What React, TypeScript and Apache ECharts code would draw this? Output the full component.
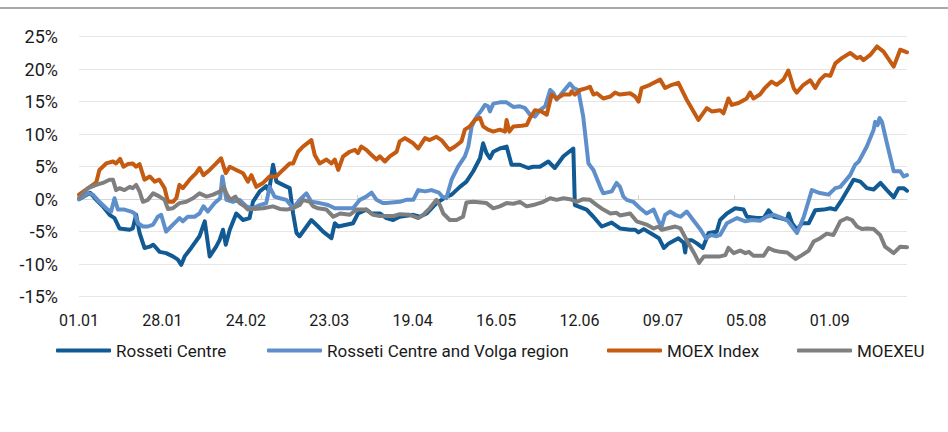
import React, { useEffect, useRef } from "react";
import * as echarts from "echarts";

const seriesNames = ["Rosseti Centre", "Rosseti Centre and Volga region", "MOEX Index", "MOEXEU"];
const seriesColors = ["#115a94", "#5f8fcb", "#c55a11", "#7f7f7f"];

// day index since 01.01 -> value in %
const rossetiCentre: [number, number][] = [
  [0, 0], [3.6, 1.0], [5.6, -0.1], [7.7, -1.1], [9.9, -2.4], [11.5, -2.9], [13.1, -4.5], [16.4, -4.7], [17.4, -4.5],
  [18.5, -2.4], [19.6, -5.2], [21.2, -7.5], [22.9, -7.3], [24, -7.0], [25, -7.5], [26.1, -8.1], [28.2, -8.3],
  [30.4, -8.8], [32, -9.3], [33.1, -10.1], [34.2, -8.8], [36.3, -7.5], [39, -5.7], [40.7, -3.4], [42.3, -8.8],
  [44.4, -7.3], [45.5, -6.3], [46.6, -4.7], [47.5, -7.0], [48.8, -4.7], [50.9, -2.2], [53.1, -3.2], [55.2, -2.9],
  [56.3, -0.4], [58.5, 1.2], [60.6, 2.0], [61.5, 1.2], [62.8, 5.3], [63.9, 2.7], [66, 2.2], [68.2, 1.7],
  [69.3, -2.2], [70.4, -5.2], [71.4, -5.7], [75.2, -3.2], [77.4, -4.2], [79, -5.0], [81.7, -6.0], [82.8, -3.7],
  [83.9, -4.2], [88.7, -3.7], [90.3, -2.2], [93, -1.6], [94.7, -2.2], [97.4, -2.2], [99.5, -2.9], [101.7, -3.2],
  [103.8, -2.7], [108.2, -2.4], [110.3, -2.7], [112.5, -2.2], [115.7, -0.6], [119, 0.4], [120.6, 0.7],
  [123.3, 1.9], [125.4, 2.7], [127.6, 4.3], [129.8, 6.3], [130.8, 8.6], [131.9, 7.1], [133, 6.3], [134.1, 7.3],
  [136.2, 7.8], [138.4, 8.1], [140, 5.3], [142.7, 5.3], [145.4, 4.8], [147, 5.0], [149.2, 5.0], [151.9, 5.8],
  [154, 4.8], [156.8, 6.6], [160, 7.8], [160.5, -0.9], [164.3, -1.6], [166.5, -2.7], [169.2, -4.2],
  [172.4, -3.6], [175.1, -4.5], [178.4, -4.7], [180, -4.7], [181.1, -5.1], [182.8, -4.6], [186, -5.5],
  [187.7, -6.0], [189.3, -7.5], [190.9, -6.8], [194, -6.0], [195.7, -6.7], [196.2, -8.2], [196.7, -6.3],
  [198.3, -6.3], [200, -6.8], [201.9, -7.5], [203.8, -5.2], [206.4, -5.0], [207.5, -3.2], [209.7, -2.2],
  [212.4, -1.4], [215.1, -1.6], [216.2, -2.7], [219.4, -2.9], [221.6, -2.9], [223.2, -1.7], [224.9, -2.7],
  [227, -2.9], [229.2, -3.2], [229.7, -2.2], [230.8, -3.7], [232.4, -4.7], [234, -3.7], [236.2, -3.7],
  [238.3, -1.7], [241, -1.6], [243.2, -1.4], [244.8, -1.6], [246.9, -0.1], [249.1, 1.7], [250.7, 3.0],
  [252.9, 2.7], [255, 1.7], [257.2, 1.5], [259.4, 2.5], [261.5, 1.4], [263.7, 0.3], [265.3, 1.7], [266.9, 1.7],
  [268, 1.3],
];

const rossetiVolga: [number, number][] = [
  [0, 0], [2.9, 0.9], [4.5, 0.7], [6.6, -0.4], [8.8, -1.4], [10.4, -1.9], [11.5, 0.15], [12.6, -1.6], [14.7, -1.6],
  [16.9, -1.9], [18, -2.2], [19.1, -3.7], [20.7, -4.2], [22.3, -4.2], [24, -3.9], [25.5, -2.7], [26.6, -2.4],
  [28.2, -5.0], [29.8, -4.2], [31.5, -3.4], [32.5, -2.9], [33.6, -3.4], [35.2, -2.7], [37.4, -2.7], [39, -2.2],
  [40.3, -1.1], [41.7, -1.9], [43.9, -0.6], [45.7, 0.15], [46.4, 3.5], [47.7, -0.1], [49.8, -0.4], [52, -0.1],
  [54.2, -1.1], [56.3, -1.4], [58.5, -0.9], [60.6, -0.6], [61.7, 1.9], [63.3, 0.4], [65, 0.15], [67.1, -0.1],
  [69.3, -1.4], [71.4, -0.1], [73.6, 0.9], [75.2, -0.4], [77.9, -0.6], [80.6, -0.9], [82.8, -1.4], [85.5, -1.4],
  [88.7, -1.4], [90.9, -0.1], [93, 0.4], [94.7, 1.0], [96.3, -0.1], [98.3, -0.6], [99.5, -0.6], [103.8, -0.4],
  [105.9, -0.1], [108.2, -0.1], [109.8, 1.4], [112, 1.2], [114.1, 1.4], [116.5, 1.0], [117.6, 0.4],
  [118.9, 0.15], [120.6, 3.0], [122.7, 5.0], [124.9, 6.6], [126, 8.1], [127.1, 11.2], [128.7, 12.7],
  [130.3, 13.7], [131.4, 14.5], [132.4, 14.3], [133, 13.5], [134.1, 14.7], [136.2, 14.9], [138.4, 14.9],
  [140.6, 14.2], [142.7, 14.3], [144.4, 14.0], [146, 13.0], [147.6, 12.7], [149.2, 13.7], [150.9, 14.3],
  [152.5, 16.8], [153.6, 16.3], [154.6, 15.3], [156.8, 16.6], [158.9, 17.8], [160.1, 17.1], [161.6, 16.8],
  [163.2, 12.7], [164.9, 5.5], [166.5, 4.5], [168.7, 1.9], [169.7, 0.9], [172.4, 1.2], [174, 2.5], [175.1, 1.9],
  [176.2, 0.4], [177.3, -0.1], [179.4, -0.4], [181.6, -1.4], [183.7, -2.2], [186, -1.6], [187.6, -3.4],
  [188.6, -4.2], [189.7, -2.4], [191.3, -1.9], [193, -2.4], [194.7, -2.7], [196.7, -1.9], [199.1, -3.4],
  [201.2, -4.7], [202.9, -6.0], [204.6, -5.5], [206.4, -5.7], [207.5, -5.5], [209.7, -3.7], [213, -2.9],
  [215.7, -3.4], [217.8, -3.2], [220.4, -3.3], [222.6, -2.7], [224.9, -2.4], [227, -2.8], [229.2, -3.2],
  [230.8, -4.2], [232.4, -5.2], [234.6, -2.7], [237.2, 1.4], [239.4, 1.0], [242.6, 0.7], [244.8, 1.7],
  [246.4, 1.9], [249.6, 3.7], [251.2, 5.3], [252.4, 5.8], [255, 8.1], [257.2, 10.7], [257.7, 11.9],
  [258.5, 11.4], [259.1, 12.5], [259.9, 11.9], [261.5, 8.6], [263.7, 4.3], [265.8, 4.3], [266.9, 3.5],
  [268, 3.7],
];

const moexIndex: [number, number][] = [
  [0, 0.7], [5.6, 2.6], [6.6, 4.5], [8.8, 5.5], [11, 5.8], [12, 5.5], [13.3, 6.2], [14.4, 5.0], [15.8, 5.4],
  [17.4, 5.5], [18.5, 5.0], [19.6, 5.4], [21.2, 3.0], [22.9, 3.5], [24.5, 2.7], [26, 3.0], [27.7, 1.7],
  [28.8, -0.4], [30.4, -0.4], [31.5, 0.15], [32.5, 2.2], [33.6, 1.7], [35.8, 3.0], [37.9, 4.0], [39, 4.8],
  [40.3, 3.7], [42.3, 4.5], [44.4, 5.5], [46, 6.3], [47.5, 4.0], [48.8, 5.0], [50.9, 4.5], [53.1, 4.0],
  [54.7, 2.7], [55.8, 3.7], [57.4, 1.9], [59.6, 2.5], [61.7, 3.5], [63.9, 3.5], [66, 4.5], [68.2, 5.5],
  [69.3, 5.5], [70.9, 7.3], [72.5, 8.1], [75.2, 9.1], [76.3, 6.8], [77.9, 5.5], [80.1, 6.1], [81.7, 5.5],
  [82.8, 6.1], [83.9, 4.5], [85.5, 6.6], [87.6, 7.3], [89.3, 7.6], [90.3, 7.1], [91.4, 8.1], [93, 7.6],
  [94.7, 6.8], [96.3, 6.1], [97.4, 6.6], [99, 5.8], [100.6, 6.6], [102.8, 7.3], [103.8, 8.9], [105.5, 9.4],
  [106.5, 9.1], [108.2, 8.6], [109.8, 7.8], [110.9, 8.6], [112, 9.4], [113.5, 9.1], [115.7, 9.6], [117.3, 9.1],
  [119, 8.1], [120, 7.6], [121.7, 8.1], [123.8, 8.9], [124.9, 10.7], [126.5, 11.2], [128.1, 12.2],
  [129.8, 12.5], [130.8, 11.2], [132.4, 10.7], [134.1, 10.4], [136.2, 10.7], [137.9, 10.4], [138.4, 12.2],
  [139.3, 10.4], [140.6, 11.2], [143.3, 11.3], [144.9, 11.4], [146, 12.5], [147.6, 13.7], [149.7, 13.5],
  [151.4, 13.0], [153, 16.1], [154.6, 15.5], [156.8, 16.1], [158.9, 16.1], [159.5, 16.6], [160.5, 16.1],
  [162.2, 16.8], [164.3, 17.1], [165.4, 17.3], [166.5, 16.1], [167.6, 16.3], [169.7, 15.5], [172, 15.8],
  [173.5, 16.4], [175.1, 16.1], [178.4, 16.3], [180, 15.8], [181.1, 15.0], [182.1, 17.1], [184.8, 17.6],
  [188.1, 18.4], [189.7, 17.1], [191.9, 17.6], [194, 17.9], [196.7, 15.3], [200.5, 12.2], [203.2, 14.0],
  [204.8, 13.5], [207.5, 13.7], [208.6, 13.2], [210.2, 15.5], [211.3, 14.5], [213.5, 14.8], [216.1, 15.5],
  [217.2, 16.4], [218.3, 15.5], [220.4, 16.1], [222, 17.1], [224.2, 18.1], [225.8, 17.6], [228, 18.4],
  [229.6, 19.8], [231.3, 17.1], [232.3, 16.4], [234.5, 17.6], [236.7, 18.3], [238.3, 17.1], [239.9, 18.4],
  [241.5, 19.1], [243.2, 19.0], [244.8, 20.9], [246.9, 21.7], [249.6, 22.5], [251.8, 21.7], [252.9, 21.9],
  [253.9, 21.4], [256.1, 22.2], [258.3, 23.5], [260.4, 22.7], [263.7, 20.4], [265.8, 23.0], [268, 22.6],
];

const moexeu: [number, number][] = [
  [0, 0.2], [2.9, 1.7], [5.6, 2.2], [7.7, 2.5], [9.9, 3.0], [11, 3.0], [12, 1.4], [13.1, 1.7], [14.7, 1.4],
  [16.4, 1.9], [17.4, 1.7], [18.5, 2.2], [19.6, 1.2], [20.7, -0.4], [22.3, -0.1], [24, 0.9], [26.1, 0.4],
  [27.7, -0.1], [28.8, -1.5], [30.4, -1.4], [32.5, -0.6], [34.7, -0.4], [36.9, 0.15], [39, 0.9], [41.3, 0.4],
  [43.4, 0.7], [45.7, 1.2], [46.8, 1.9], [47.9, 0.7], [49, -0.1], [50.6, 0.4], [52, -0.6], [53.6, -1.1],
  [54.7, -1.6], [56.3, -1.5], [59.6, -1.4], [62.8, -1.1], [65, -1.5], [67.1, -1.6], [69.3, -1.4], [71.4, -0.9],
  [72.5, -0.1], [74.7, -0.4], [75.8, -1.1], [77.4, -1.4], [80.1, -1.6], [82.3, -2.7], [84.5, -2.2],
  [87.7, -2.4], [89.8, -1.6], [93, -1.6], [95.2, -2.4], [97.4, -2.6], [101.7, -2.6], [103.8, -2.3],
  [107.1, -2.4], [109.8, -2.9], [111.4, -2.4], [113.5, -1.4], [115.7, -0.1], [116.8, -0.9], [117.9, -2.2],
  [120, -3.2], [122.2, -3.2], [124.3, -2.7], [125.4, -0.5], [127.6, -0.4], [131.9, -0.6], [134.1, -1.4],
  [136.2, -1.1], [138.4, -0.6], [140.6, -0.7], [142.7, -0.4], [144.9, -1.1], [147, -0.9], [150.3, -0.4],
  [152.5, 0.15], [154.6, -0.1], [156.8, 0.15], [158.9, 0], [161.1, -0.4], [163.2, 0], [165.4, -0.1],
  [167.6, -0.9], [169.7, -1.6], [172, -2.2], [174, -2.1], [175.1, -2.5], [178.4, -2.2], [180.5, -3.4],
  [183.7, -3.9], [186, -4.5], [187.6, -4.2], [188.6, -4.7], [190.3, -4.5], [193, -4.2], [194.7, -4.5],
  [196.7, -6.3], [199.1, -8.3], [200.7, -9.8], [202.3, -8.8], [204.5, -8.8], [207.5, -8.8], [209.2, -8.6],
  [210.2, -7.5], [211.9, -8.3], [214, -7.9], [215.7, -8.3], [216.8, -8.1], [218.3, -8.7], [221.6, -8.7],
  [223.2, -7.5], [224.9, -7.9], [227, -8.1], [229.2, -8.2], [230.3, -8.6], [231.9, -9.2], [234, -8.6],
  [236.2, -7.9], [237.8, -6.5], [239.9, -6.0], [242, -5.3], [244.2, -5.5], [246.4, -3.4], [248.6, -2.9],
  [250.2, -3.2], [251.8, -4.2], [253.4, -4.6], [255, -4.5], [257.2, -4.6], [259.3, -5.5], [260.9, -7.3],
  [263.7, -8.3], [265.8, -7.3], [268, -7.4],
];

const xLabelDays = [0, 27, 54, 81, 108, 135, 162, 189, 216, 243];
const xLabels = ["01.01", "28.01", "24.02", "23.03", "19.04", "16.05", "12.06", "09.07", "05.08", "01.09"];
const monthStartDays = [31, 59, 90, 120, 151, 181, 212, 243];
const legendLefts = [56, 267, 607, 797];

const FONT = "Roboto, 'Noto Sans', sans-serif";

export default function App() {
  const ref = useRef<HTMLDivElement>(null);
  useEffect(() => {
    if (!ref.current) return;
    const chart = echarts.init(ref.current, null, { renderer: "svg" });
    const data = [rossetiCentre, rossetiVolga, moexIndex, moexeu];
    chart.setOption({
      animation: false,
      backgroundColor: "#ffffff",
      textStyle: { fontFamily: FONT },
      graphic: [
        { type: "rect", shape: { x: 0, y: 7, width: 948, height: 2 }, style: { fill: "#a6a9ad" } },
      ],
      legend: seriesNames.map((n, i) => ({
        data: [n],
        left: legendLefts[i],
        top: 342,
        icon: "roundRect",
        itemWidth: 55,
        itemHeight: 4,
        padding: 0,
        textStyle: { fontFamily: FONT, fontSize: 17, color: "#1a1a1a" },
      })),
      grid: { left: 79, right: 41, top: 36.7, bottom: 135.3 },
      xAxis: [
        {
          type: "value",
          min: 0,
          max: 268,
          axisLine: { show: false, onZero: false },
          axisTick: { show: false },
          splitLine: { show: false },
          axisLabel: {
            customValues: xLabelDays,
            formatter: (v: number) => xLabels[xLabelDays.indexOf(Math.round(v))] ?? "",
            fontFamily: FONT,
            fontSize: 16,
            color: "#1a1a1a",
            margin: 16,
          },
        },
        {
          type: "value",
          min: 0,
          max: 268,
          position: "bottom",
          axisLine: { show: true, onZero: true, lineStyle: { color: "#d4d4d4", width: 1 } },
          axisTick: { show: true, customValues: monthStartDays, inside: true, length: 4, lineStyle: { color: "#d4d4d4" } },
          axisLabel: { show: false },
          splitLine: { show: false },
        },
      ],
      yAxis: {
        type: "value",
        min: -15,
        max: 25,
        interval: 5,
        axisLine: { show: false },
        axisTick: { show: false },
        splitLine: { lineStyle: { color: "#e6e6e6", width: 1 } },
        axisLabel: {
          formatter: "{value}%",
          fontFamily: FONT,
          fontSize: 18,
          color: "#1a1a1a",
          margin: 21,
        },
      },
      series: seriesNames.map((n, i) => ({
        name: n,
        type: "line",
        xAxisIndex: 0,
        data: data[i],
        showSymbol: false,
        symbol: "none",
        lineStyle: { color: seriesColors[i], width: 4, join: "round", cap: "round" },
        itemStyle: { color: seriesColors[i] },
      })),
    });
    return () => chart.dispose();
  }, []);
  return <div ref={ref} style={{ position: "fixed", left: 0, top: 0, width: 948, height: 432 }} />;
}
